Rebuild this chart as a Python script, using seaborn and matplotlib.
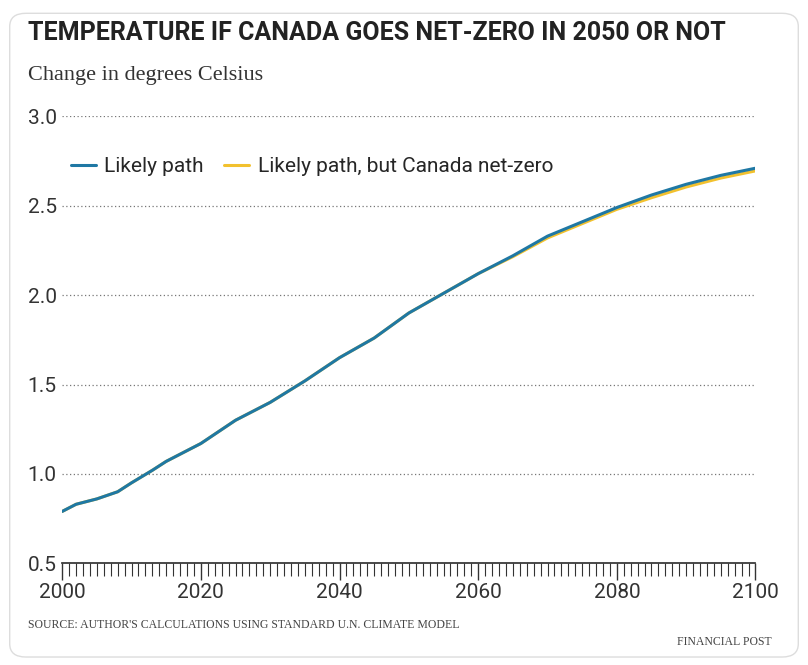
import matplotlib
matplotlib.use("Agg")
import matplotlib.pyplot as plt
from matplotlib.patches import FancyBboxPatch
import seaborn as sns
import pandas as pd

YEARS = [2000, 2002, 2005, 2008, 2010, 2013, 2015, 2020, 2025, 2030, 2035, 2040, 2045,
         2050, 2055, 2060, 2065, 2070, 2075, 2080, 2085, 2090, 2095, 2100]
LIKELY = [0.79, 0.83, 0.86, 0.90, 0.95, 1.02, 1.07, 1.17, 1.30, 1.40, 1.52, 1.65, 1.76,
          1.90, 2.01, 2.12, 2.22, 2.33, 2.41, 2.49, 2.56, 2.62, 2.67, 2.71]
NET_ZERO = [0.79, 0.83, 0.86, 0.90, 0.95, 1.02, 1.07, 1.17, 1.30, 1.40, 1.52, 1.65, 1.76,
            1.90, 2.01, 2.12, 2.215, 2.32, 2.40, 2.48, 2.545, 2.605, 2.655, 2.695]
Y_TICKS = [0.5, 1.0, 1.5, 2.0, 2.5, 3.0]
X_TICKS = [2000, 2020, 2040, 2060, 2080, 2100]

BLUE = "#1f78a4"
GOLD = "#f2c12e"

sns.set_theme(style="white")
plt.rcParams["font.family"] = ["Roboto", "DejaVu Sans"]

df = pd.DataFrame({"year": YEARS, "Likely path": LIKELY,
                   "Likely path, but Canada net-zero": NET_ZERO})
long_df = df.melt(id_vars="year", var_name="series", value_name="value")

fig = plt.figure(figsize=(8.08, 6.65), dpi=100)
card = FancyBboxPatch((0.012, 0.012), 0.976, 0.968, boxstyle="round,pad=0,rounding_size=0.02",
                      transform=fig.transFigure, facecolor="white",
                      edgecolor="#dddddd", linewidth=1, zorder=-10)
fig.patches.append(card)
ax = fig.add_axes([0.077, 0.153, 0.858, 0.672])
ax.set_zorder(5)
ax.patch.set_alpha(0)

sns.lineplot(data=long_df, x="year", y="value", hue="series",
             palette={"Likely path": BLUE, "Likely path, but Canada net-zero": GOLD},
             hue_order=["Likely path, but Canada net-zero", "Likely path"],
             linewidth=2.2, ax=ax, legend=False)

ax.set_xlim(2000, 2100)
ax.set_ylim(0.5, 3.0)
ax.set_yticks(Y_TICKS)
ax.set_yticklabels([f"{v:.1f}" for v in Y_TICKS])
ax.set_xticks(X_TICKS)
ax.set_xticks(range(2000, 2101), minor=True)
ax.tick_params(axis="x", which="major", bottom=True, length=12, width=1, color="#333333", labelsize=15, pad=2)
ax.tick_params(axis="x", which="minor", bottom=True, length=9, width=0.8, color="#333333")
ax.tick_params(axis="y", length=0, labelsize=15, pad=4)
for lab in ax.get_xticklabels() + ax.get_yticklabels():
    lab.set_color("#333333")
ax.grid(axis="y", linestyle=(0, (1, 2)), color="#777777", linewidth=0.9)
for s in ["top", "right", "left"]:
    ax.spines[s].set_visible(False)
ax.spines["bottom"].set_color("#333333")
ax.set_xlabel("")
ax.set_ylabel("")

ax.plot([], [], color=BLUE, lw=2.2, label="Likely path")
ax.plot([], [], color=GOLD, lw=2.2, label="Likely path, but Canada net-zero")
ax.legend(loc="upper left", bbox_to_anchor=(-0.015, 0.95), ncol=2, frameon=False,
          fontsize=15, handlelength=1.2, handletextpad=0.4, columnspacing=1.0)

fig.text(0.035, 0.94, "TEMPERATURE IF CANADA GOES NET-ZERO IN 2050 OR NOT",
         fontsize=18, fontweight="bold", color="#222222", family=["Roboto", "DejaVu Sans"])
fig.text(0.035, 0.88, "Change in degrees Celsius", fontsize=16, color="#333333",
         family=["Liberation Serif", "DejaVu Serif"])
fig.text(0.035, 0.055, "SOURCE: AUTHOR'S CALCULATIONS USING STANDARD U.N. CLIMATE MODEL",
         fontsize=8.5, color="#444444", family=["Liberation Serif", "DejaVu Serif"])
fig.text(0.955, 0.03, "FINANCIAL POST", fontsize=8.5, color="#444444", ha="right",
         family=["Liberation Serif", "DejaVu Serif"])

fig.savefig("out.png", dpi=100)
